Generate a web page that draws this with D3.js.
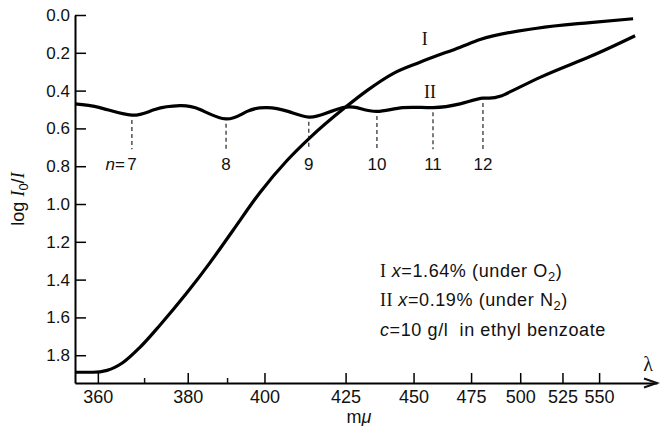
<!DOCTYPE html>
<html>
<head>
<meta charset="utf-8">
<script src="https://cdn.jsdelivr.net/npm/d3@7"></script>
<style>
  body { margin: 0; background: #fff; }
  text { font-family: 'Liberation Sans', Arial, sans-serif; fill: #111; white-space: pre; }
  .serif { font-family: 'Liberation Serif', 'DejaVu Serif', serif; }
</style>
</head>
<body>
<div id="chart"></div>
<script>
// wavelength (m\u03bc) / log I0/I readings
var lambdaI = [355.4, 359, 361.9, 365.2, 368.9, 373.5, 379.8, 385.5, 391.4, 398.7, 406.5, 413.4, 424.8, 432.4, 442, 452.6, 470, 479.3, 509.5, 543.5, 576.7];
var valuesI = [1.89, 1.89, 1.88, 1.84, 1.76, 1.64, 1.47, 1.31, 1.14, 0.94, 0.77, 0.65, 0.49, 0.40, 0.31, 0.25, 0.17, 0.13, 0.07, 0.04, 0.02];

var lambdaII = [355.4, 360.4, 367.2, 372.3, 378.1, 383, 389.6, 395.2, 400.7, 406.8, 413.1, 418.5, 424.1, 428.9, 436, 445.8, 458, 469.9, 480.7, 489.3, 511.3, 543.5, 578.4];
var valuesII = [0.47, 0.49, 0.53, 0.50, 0.48, 0.50, 0.55, 0.51, 0.49, 0.51, 0.54, 0.52, 0.49, 0.49, 0.51, 0.49, 0.49, 0.47, 0.44, 0.43, 0.33, 0.22, 0.11];

var nLambdas = [367.2, 389.6, 413.1, 436, 458, 480.7];
var nLabels = ['7', '8', '9', '10', '11', '12'];

var xTicks = [360, 380, 400, 425, 450, 475, 500, 525, 550];
var xMinorTicks = [370, 390];
var yTicks = [0, 0.2, 0.4, 0.6, 0.8, 1.0, 1.2, 1.4, 1.6, 1.8];

var width = 660, height = 426;

var svg = d3.select('#chart').append('svg')
  .attr('width', width)
  .attr('height', height);

// x runs linear in 1/lambda^2
var x = d3.scalePow().exponent(-2).domain([355.4, 598]).range([75, 657]);
var y = d3.scaleLinear().domain([0, 1.947]).range([15, 383]);

function interp(xs, ys, v) {
  var i = d3.bisectLeft(xs, v);
  if (i <= 0) return ys[0];
  if (i >= xs.length) return ys[ys.length - 1];
  var t = (v - xs[i - 1]) / (xs[i] - xs[i - 1]);
  return ys[i - 1] + t * (ys[i] - ys[i - 1]);
}

// axes
var xAxis = svg.append('g')
  .attr('transform', 'translate(0,' + y.range()[1] + ')')
  .call(d3.axisBottom(x).tickValues(xTicks).tickSizeInner(-10).tickSizeOuter(0).tickPadding(7).tickFormat(d3.format('d')));
xAxis.selectAll('text').attr('font-size', 18).attr('font-family', 'Liberation Sans, Arial, sans-serif');
xAxis.select('.domain').attr('stroke-width', 2);
xAxis.selectAll('.tick line').attr('stroke-width', 1.5);

svg.append('g')
  .attr('transform', 'translate(0,' + y.range()[1] + ')')
  .selectAll('line').data(xMinorTicks).enter().append('line')
  .attr('x1', function(d) { return x(d); })
  .attr('x2', function(d) { return x(d); })
  .attr('y1', 0).attr('y2', -5)
  .attr('stroke', '#111').attr('stroke-width', 1.5);

// arrow head on x axis
var xEnd = x.range()[1];
svg.append('path')
  .attr('d', 'M' + (xEnd - 13) + ',' + (y.range()[1] - 4.5) + 'L' + xEnd + ',' + y.range()[1] + 'L' + (xEnd - 13) + ',' + (y.range()[1] + 4.5))
  .attr('fill', 'none').attr('stroke', '#111').attr('stroke-width', 2);

var yAxis = svg.append('g')
  .attr('transform', 'translate(' + x.range()[0] + ',0)')
  .call(d3.axisLeft(y).tickValues(yTicks).tickSizeInner(-11).tickSizeOuter(0).tickPadding(5).tickFormat(d3.format('.1f')));
yAxis.selectAll('text').attr('font-size', 17).attr('font-family', 'Liberation Sans, Arial, sans-serif');
yAxis.select('.domain').attr('stroke-width', 2);
yAxis.selectAll('.tick line').attr('stroke-width', 1.5);

// curves
var lineI = d3.line().curve(d3.curveMonotoneX);
var lineII = d3.line().curve(d3.curveNatural);

svg.append('path')
  .attr('d', lineI(lambdaI.map(function(l, i) { return [x(l), y(valuesI[i])]; })))
  .attr('fill', 'none').attr('stroke', '#000').attr('stroke-width', 3.2);

svg.append('path')
  .attr('d', lineII(lambdaII.map(function(l, i) { return [x(l), y(valuesII[i])]; })))
  .attr('fill', 'none').attr('stroke', '#000').attr('stroke-width', 3.2);

// interference order markers
var marks = svg.append('g');
nLambdas.forEach(function(l, i) {
  marks.append('line')
    .attr('x1', x(l)).attr('x2', x(l))
    .attr('y1', y(interp(lambdaII, valuesII, l) + 0.025))
    .attr('y2', y(0.71))
    .attr('stroke', '#111').attr('stroke-width', 1.1)
    .attr('stroke-dasharray', '4,3');
  marks.append('text')
    .attr('x', x(l)).attr('y', y(0.82))
    .attr('text-anchor', 'middle').attr('font-size', 17)
    .text(nLabels[i]);
});
var n0 = x(nLambdas[0]) - 7;
var nt = marks.append('text').attr('x', n0).attr('y', y(0.82)).attr('text-anchor', 'end').attr('font-size', 17);
nt.append('tspan').attr('font-style', 'italic').text('n');
nt.append('tspan').text('=');

// curve labels
svg.append('text').attr('class', 'serif')
  .attr('x', x(454.6)).attr('y', y(0.16)).attr('text-anchor', 'middle').attr('font-size', 18)
  .text('I');
svg.append('text').attr('class', 'serif')
  .attr('x', x(456.7)).attr('y', y(0.44)).attr('text-anchor', 'middle').attr('font-size', 18)
  .text('II');

// axis titles
var yl = svg.append('text')
  .attr('transform', 'translate(24,199) rotate(-90)')
  .attr('text-anchor', 'middle').attr('font-size', 18);
yl.append('tspan').text('log ');
yl.append('tspan').attr('class', 'serif').attr('font-style', 'italic').text('I');
yl.append('tspan').attr('font-size', 13).attr('dy', 4).text('0');
yl.append('tspan').attr('dy', -4).text('/');
yl.append('tspan').attr('class', 'serif').attr('font-style', 'italic').text('I');

var xl = svg.append('text').attr('x', 359).attr('y', 423).attr('text-anchor', 'middle').attr('font-size', 18);
xl.append('tspan').text('m');
xl.append('tspan').attr('font-style', 'italic').text('\u03bc');

svg.append('text').attr('x', 648).attr('y', 371).attr('text-anchor', 'middle').attr('font-size', 20)
  .attr('class', 'serif').text('\u03bb');

// legend notes
var notes = svg.append('g').attr('font-size', 18).attr('letter-spacing', 0.6);
var t1 = notes.append('text').attr('x', 380).attr('y', 277);
t1.append('tspan').attr('class', 'serif').text('I ');
t1.append('tspan').attr('font-style', 'italic').text('x');
t1.append('tspan').text('=1.64% (under O');
t1.append('tspan').attr('font-size', 13).attr('dy', 4).text('2');
t1.append('tspan').attr('dy', -4).text(')');

var t2 = notes.append('text').attr('x', 380).attr('y', 306);
t2.append('tspan').attr('class', 'serif').text('II ');
t2.append('tspan').attr('font-style', 'italic').text('x');
t2.append('tspan').text('=0.19% (under N');
t2.append('tspan').attr('font-size', 13).attr('dy', 4).text('2');
t2.append('tspan').attr('dy', -4).text(')');

var t3 = notes.append('text').attr('x', 380).attr('y', 336);
t3.append('tspan').attr('font-style', 'italic').text('c');
t3.append('tspan').text('=10 g/l  in ethyl benzoate');
</script>
</body>
</html>
